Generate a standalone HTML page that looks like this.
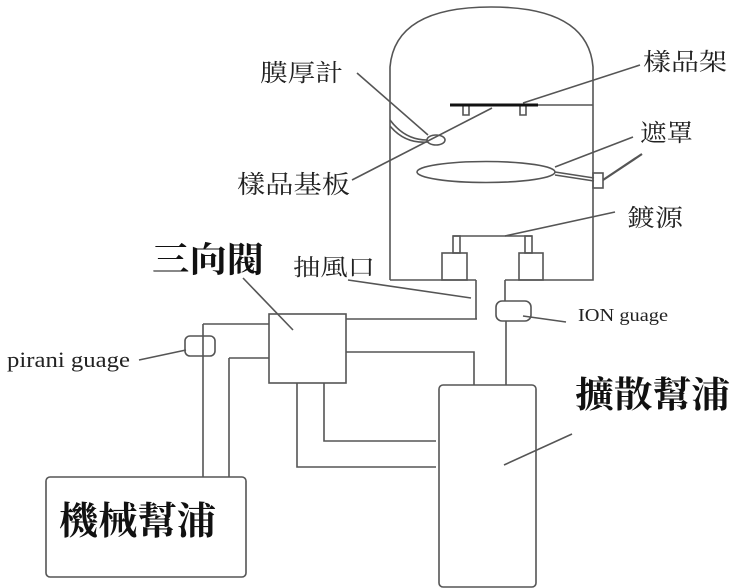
<!DOCTYPE html>
<html><head><meta charset="utf-8"><style>
body{margin:0;background:#fff;}
svg{display:block}
text{font-family:"Liberation Serif","Noto Serif CJK SC","Noto Sans CJK TC",serif;fill:#222}
.b{font-family:"Liberation Serif","Noto Serif CJK SC","Noto Sans CJK TC",serif;font-weight:bold;fill:#111}
</style></head><body>
<svg width="752" height="588" viewBox="0 0 752 588" xmlns="http://www.w3.org/2000/svg">
<g fill="none" stroke="#555" stroke-width="1.6">
<path d="M390,280 L390,67 Q395,7 491,7 Q588,7 593,67 L593,280 L505,280 M476,280 L390,280"/>
<path d="M476,280 L476,319 M505,280 L505,301 M506,321 L506,385"/>
<line x1="538" y1="105" x2="593" y2="105"/>
<path d="M463,106 v9 h6 v-9 M520,106 v9 h6 v-9"/>
<ellipse cx="436" cy="140" rx="9" ry="5"/>
<path d="M390,120 Q405,140 427,140 M390,126 Q405,144 428,142"/>
<ellipse cx="486" cy="172" rx="69" ry="10.5"/>
<path d="M555,172 L594,178 M555,175 L594,181"/>
<rect x="593" y="173" width="10" height="15"/>
<line x1="603" y1="180" x2="642" y2="154" stroke-width="2.2"/>
<path d="M453,236 H532"/>
<rect x="453" y="236" width="7" height="17"/>
<rect x="525" y="236" width="7" height="17"/>
<rect x="442" y="253" width="25" height="27"/>
<rect x="519" y="253" width="24" height="27"/>
<rect x="496" y="301" width="35" height="20" rx="6"/>
<rect x="269" y="314" width="77" height="69"/>
<path d="M346,319 H477 M346,352 H474 V385"/>
<path d="M203,324 H269 M203,324 V477 M229,358 H269 M229,358 V477"/>
<rect x="185" y="336" width="30" height="20" rx="5"/>
<path d="M324,383 V441 H436 M297,383 V467 H436"/>
<rect x="46" y="477" width="200" height="100" rx="4"/>
<rect x="439" y="385" width="97" height="202" rx="4"/>
<line x1="357" y1="73" x2="428" y2="135"/>
<line x1="352" y1="180" x2="492" y2="108"/>
<line x1="523" y1="103" x2="640" y2="65"/>
<line x1="555" y1="167" x2="633" y2="137"/>
<line x1="505" y1="236" x2="615" y2="212"/>
<line x1="348" y1="280" x2="471" y2="298"/>
<line x1="243" y1="278" x2="293" y2="330"/>
<line x1="139" y1="360" x2="186" y2="350"/>
<line x1="523" y1="316" x2="566" y2="322"/>
<line x1="504" y1="465" x2="572" y2="434"/>
</g>
<line x1="450" y1="105" x2="538" y2="105" stroke="#111" stroke-width="3"/>
<text x="260" y="81" font-size="24" textLength="83" lengthAdjust="spacingAndGlyphs">膜厚計</text>
<text x="643" y="70" font-size="24" textLength="84" lengthAdjust="spacingAndGlyphs">樣品架</text>
<text x="640" y="141" font-size="24" textLength="53" lengthAdjust="spacingAndGlyphs">遮罩</text>
<text x="627" y="226" font-size="24" textLength="56" lengthAdjust="spacingAndGlyphs">鍍源</text>
<text x="237" y="193" font-size="25" textLength="113" lengthAdjust="spacingAndGlyphs">樣品基板</text>
<text x="293" y="275" font-size="23" textLength="82" lengthAdjust="spacingAndGlyphs">抽風口</text>
<text x="152" y="272" font-size="35" class="b" textLength="112" lengthAdjust="spacingAndGlyphs">三向閥</text>
<text x="7" y="367" font-size="22" textLength="123" lengthAdjust="spacingAndGlyphs">pirani guage</text>
<text x="578" y="321" font-size="18" textLength="90" lengthAdjust="spacingAndGlyphs">ION guage</text>
<text x="575" y="407" font-size="36" class="b" textLength="155" lengthAdjust="spacingAndGlyphs">擴散幫浦</text>
<text x="59" y="534" font-size="38" class="b" textLength="157" lengthAdjust="spacingAndGlyphs">機械幫浦</text>
</svg>
</body></html>
